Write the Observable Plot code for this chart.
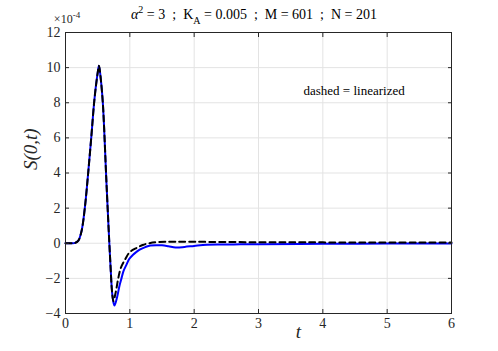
<!DOCTYPE html>
<html><head><meta charset="utf-8">
<script src="https://cdn.jsdelivr.net/npm/d3@7"></script>
<script src="https://cdn.jsdelivr.net/npm/@observablehq/plot@0.6"></script>
<style>
body{margin:0;background:#fff;}
svg text{font-family:"Liberation Serif","Times New Roman",serif !important;}
</style>
</head><body><div id="chart"></div>
<script>
// S(0,t) in units of 1e-4
const tFull = [0,0.1,0.15,0.2,0.25,0.3,0.35,0.4,0.45,0.5,0.52,0.55,0.58,0.6,0.63,0.65,0.68,0.7,0.73,0.76,0.8,0.84,0.87,0.9,0.95,0.99,1.05,1.1,1.16,1.24,1.32,1.5,1.6,1.71,1.85,2.0,2.2,2.5,2.72,3,4,5,6];
const sFull = [0,0,0.02,0.15,0.7,2.0,3.9,6.0,8.2,9.7,10.1,9.3,8.0,6.6,4.0,2.4,0.1,-1.3,-3.0,-3.55,-3.1,-2.4,-2.0,-1.6,-1.2,-0.9,-0.65,-0.5,-0.35,-0.22,-0.13,-0.12,-0.17,-0.24,-0.21,-0.15,-0.08,-0.07,-0.06,-0.05,-0.03,-0.02,-0.02];
const tLin = [0,0.1,0.15,0.2,0.25,0.3,0.35,0.4,0.45,0.5,0.52,0.55,0.58,0.6,0.63,0.65,0.68,0.7,0.72,0.745,0.78,0.82,0.86,0.93,1.0,1.11,1.2,1.3,1.45,2,3,4,6];
const sLin = [0,0,0.02,0.15,0.7,2.0,3.9,6.0,8.2,9.7,10.1,9.3,8.0,6.6,4.0,2.4,0.1,-1.3,-2.6,-3.3,-2.8,-2.0,-1.4,-0.9,-0.5,-0.26,-0.1,0.0,0.07,0.08,0.06,0.05,0.04];
const xTicks = [0,1,2,3,4,5,6];
const yTicks = [-4,-2,0,2,4,6,8,10,12];

const full = tFull.map((t,i)=>({t, s:sFull[i]}));
const lin = tLin.map((t,i)=>({t, s:sLin[i]}));
const axc = "#262626";
const serif = "Liberation Serif, Times New Roman, serif";

const chart = Plot.plot({
  width: 498, height: 351,
  marginLeft: 65, marginRight: 47, marginTop: 32, marginBottom: 38,
  style: {fontFamily: serif, fontSize: "13px", color: axc, background: "#fff"},
  x: {domain: [0,6], ticks: xTicks},
  y: {domain: [-4,12], ticks: yTicks},
  marks: [
    Plot.gridX(xTicks, {stroke: "#e3e3e3", strokeOpacity: 1}),
    Plot.gridY(yTicks, {stroke: "#e3e3e3", strokeOpacity: 1}),
    Plot.line(full, {x: "t", y: "s", stroke: "#0000ff", strokeWidth: 2, curve: "catmull-rom"}),
    Plot.line(lin, {x: "t", y: "s", stroke: "#000", strokeWidth: 2, strokeDasharray: "6,4", curve: "catmull-rom"}),
    Plot.frame({stroke: axc, strokeWidth: 1}),
    Plot.axisX(xTicks, {anchor: "bottom", tickSize: -4, tickPadding: 9, stroke: axc, fill: axc, label: null, fontSize: 14, fontFamily: serif}),
    Plot.axisX(xTicks, {anchor: "top", tickSize: -4, tickFormat: () => "", stroke: axc, label: null}),
    Plot.axisY(yTicks, {anchor: "left", tickSize: -4, tickPadding: 9, stroke: axc, fill: axc, label: null, fontSize: 14, fontFamily: serif}),
    Plot.axisY(yTicks, {anchor: "right", tickSize: -4, tickFormat: () => "", stroke: axc, label: null}),
    Plot.text(["dashed = linearized"], {frameAnchor: "top-left", dx: 238, dy: 53, textAnchor: "start", fontSize: 13, fill: "#000", fontFamily: serif}),
    Plot.text(["t"], {frameAnchor: "bottom", dx: 40, dy: 24, fontSize: 19, fontStyle: "italic", fill: axc, fontFamily: serif}),
    Plot.text(["S(0,t)"], {frameAnchor: "left", dx: -35, dy: -3, rotate: -90, fontSize: 19, fontStyle: "italic", fill: axc, fontFamily: serif})
  ]
});
document.getElementById("chart").appendChild(chart);

const svg = d3.select(chart);
// exponent label
const ex = svg.append("text").attr("x", 67).attr("y", 23).attr("fill", axc).attr("font-size", 12);
ex.append("tspan").text("×10");
ex.append("tspan").attr("dy", -5).attr("font-size", 9).text("-4");
// title
const ti = svg.append("text").attr("x", 254).attr("y", 19).attr("text-anchor", "middle").attr("fill", "#000").attr("font-size", 14);
ti.append("tspan").attr("font-style", "italic").text("α");
ti.append("tspan").attr("dy", -6).attr("font-size", 10).text("2");
ti.append("tspan").attr("dy", 6).text(" = 3  ;  K");
ti.append("tspan").attr("dy", 5).attr("font-size", 10).text("A");
ti.append("tspan").attr("dy", -5).text(" = 0.005  ;  M = 601  ;  N = 201");
</script>
</body></html>
